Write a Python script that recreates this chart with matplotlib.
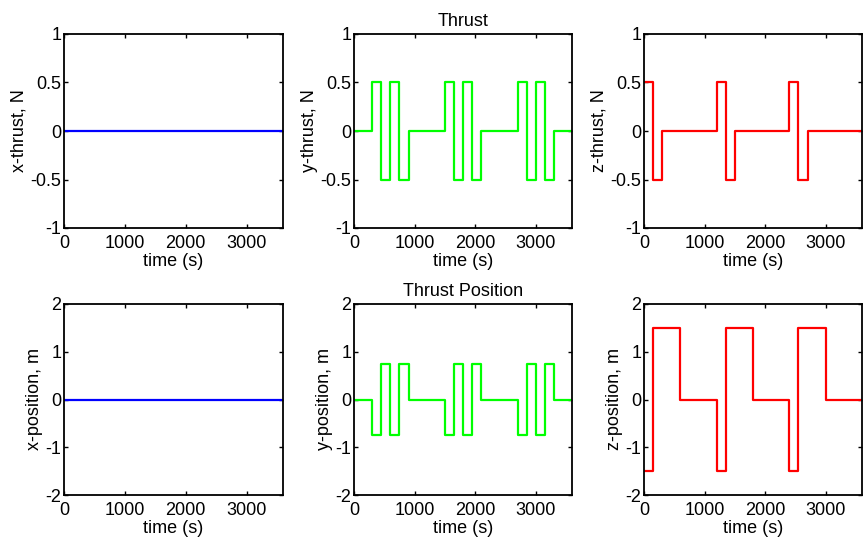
import matplotlib.pyplot as plt

# switching times (s) and step values
t_y = [0, 300, 450, 600, 750, 900, 1500, 1650, 1800, 1950, 2100, 2700, 2850, 3000, 3150, 3300, 3600]
fy = [0, 0.5, -0.5, 0.5, -0.5, 0, 0.5, -0.5, 0.5, -0.5, 0, 0.5, -0.5, 0.5, -0.5, 0, 0]
py = [0, -0.75, 0.75, -0.75, 0.75, 0, -0.75, 0.75, -0.75, 0.75, 0, -0.75, 0.75, -0.75, 0.75, 0, 0]

t_z = [0, 150, 300, 1200, 1350, 1500, 2400, 2550, 2700, 3600]
fz = [0.5, -0.5, 0, 0.5, -0.5, 0, 0.5, -0.5, 0, 0]

t_zp = [0, 150, 600, 1200, 1350, 1800, 2400, 2550, 3000, 3600]
pz = [-1.5, 1.5, 0, -1.5, 1.5, 0, -1.5, 1.5, 0, 0]

t_x = [0, 3600]
fx = [0, 0]
px = [0, 0]

plt.rcParams['font.family'] = ['Liberation Sans', 'DejaVu Sans']
plt.rcParams['font.size'] = 13
plt.rcParams['axes.unicode_minus'] = False

fig = plt.figure(figsize=(8.65, 5.4), dpi=100)
W, H = 865, 540
cols = [(64, 283), (354, 572), (644, 862)]
rows = [(34, 228), (304, 495)]


def make_ax(col, row):
    x0, x1 = cols[col]
    y0, y1 = rows[row]
    return fig.add_axes([x0 / W, 1 - y1 / H, (x1 - x0) / W, (y1 - y0) / H])


panels = [
    (0, 0, t_x, fx, 'b', 'x-thrust, N', 1),
    (1, 0, t_y, fy, '#00ff00', 'y-thrust, N', 1),
    (2, 0, t_z, fz, 'r', 'z-thrust, N', 1),
    (0, 1, t_x, px, 'b', 'x-position, m', 2),
    (1, 1, t_y, py, '#00ff00', 'y-position, m', 2),
    (2, 1, t_zp, pz, 'r', 'z-position, m', 2),
]

for col, row, t, v, c, lab, lim in panels:
    ax = make_ax(col, row)
    ax.step(t, v, where='post', color=c, lw=1.6)
    ax.set_xlim(0, 3600)
    ax.set_ylim(-lim, lim)
    ax.set_xticks([0, 1000, 2000, 3000])
    if lim == 1:
        ax.set_yticks([-1, -0.5, 0, 0.5, 1])
        ax.set_yticklabels(['-1', '-0.5', '0', '0.5', '1'])
    else:
        ax.set_yticks([-2, -1, 0, 1, 2])
    ax.tick_params(direction='in', top=True, right=True, length=3, width=1)
    ax.tick_params(axis='x', pad=5)
    ax.tick_params(axis='y', pad=2)
    for s in ax.spines.values():
        s.set_linewidth(1.3)
    ax.set_xlabel('time (s)', labelpad=1)
    ax.set_ylabel(lab, labelpad=2)
    if col == 1:
        ax.set_title('Thrust' if row == 0 else 'Thrust Position', fontsize=13, pad=6)

fig.savefig('out.png', dpi=100)
